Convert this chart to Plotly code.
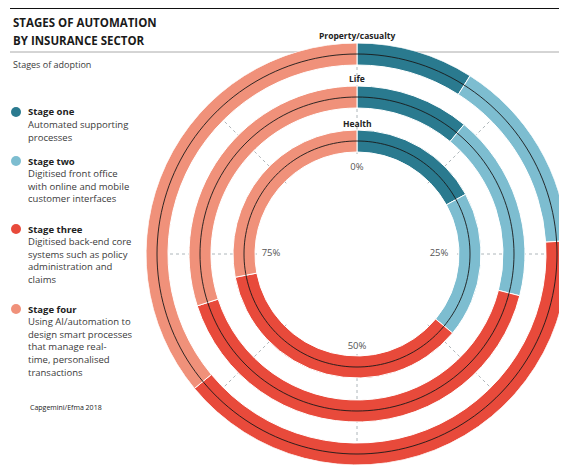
import plotly.graph_objects as go

# ---------------- data ----------------
sectors = ["Health", "Life", "Property/casualty"]
stage_names = ["Stage one", "Stage two", "Stage three", "Stage four"]
stage_desc = [
    ["Automated supporting", "processes"],
    ["Digitised front office", "with online and mobile", "customer interfaces"],
    ["Digitised back-end core", "systems such as policy", "administration and", "claims"],
    ["Using AI/automation to", "design smart processes", "that manage real-", "time, personalised", "transactions"],
]
# share (%) of each stage per sector, order = sectors
stage_one = [17, 11, 9]
stage_two = [19, 18, 15]
stage_three = [36, 41, 40]
stage_four = [28, 30, 36]
pct_ticks = [0, 25, 50, 75]
pct_labels = ["0%", "25%", "50%", "75%"]

# ---------------- style ----------------
W, H = 567, 472
OFF = 8  # page body margin
CX, CY, R = 357, 254, 211
colors = ["#2a7a8f", "#7dbdd0", "#e84a3b", "#f0917a"]
ring_inner = [102, 146, 189]
ring_w = 22
label_r = [86, 82, 93, 86]
FONT = "Open Sans"
TXT = "#3a3a3a"

stages = [stage_one, stage_two, stage_three, stage_four]

def px(x):
    return (x - OFF) / W

def py(y):
    return 1 - (y - OFF) / H

dom_x = [px(CX - R), px(CX + R)]
dom_y = [py(CY + R), py(CY - R)]

fig = go.Figure()

# dotted radial grid lines (bottom subplot)
for k in range(8):
    fig.add_trace(go.Scatterpolar(
        subplot="polar", r=[100, 228], theta=[k * 45, k * 45], mode="lines",
        line=dict(color="#9aa3a8", width=0.8, dash="dot"),
        cliponaxis=False, hoverinfo="skip", showlegend=False))

# ring segments
for si, vals in enumerate(stages):
    thetas, widths, bases, rs = [], [], [], []
    for ri in range(len(sectors)):
        start = sum(stages[j][ri] for j in range(si))
        v = vals[ri]
        thetas.append((start + v / 2) * 3.6)
        widths.append(v * 3.6)
        bases.append(ring_inner[ri])
        rs.append(ring_w)
    fig.add_trace(go.Barpolar(
        subplot="polar2", r=rs, theta=thetas, width=widths, base=bases,
        marker=dict(color=colors[si], line=dict(color="white", width=1)),
        name=stage_names[si], showlegend=False, hoverinfo="skip"))

# thin black centre lines
th = [i * 2 for i in range(181)]
for ri in range(len(sectors)):
    fig.add_trace(go.Scatterpolar(
        subplot="polar2", r=[ring_inner[ri] + ring_w / 2] * len(th), theta=th,
        mode="lines", line=dict(color="#1a1a1a", width=0.9),
        hoverinfo="skip", showlegend=False))

# percent labels
fig.add_trace(go.Scatterpolar(
    subplot="polar2", r=label_r, theta=[p * 3.6 for p in pct_ticks],
    mode="text", text=pct_labels, cliponaxis=False,
    textfont=dict(family=FONT, size=9.5, color="#555"),
    hoverinfo="skip", showlegend=False))

polar_common = dict(
    domain=dict(x=dom_x, y=dom_y), bgcolor="rgba(0,0,0,0)",
    radialaxis=dict(range=[0, R], visible=False),
    angularaxis=dict(visible=False, direction="clockwise", rotation=90,
                     thetaunit="degrees"),
)

# text annotations
ann = []
ann.append(dict(x=px(11), y=py(22), text="<b>STAGES OF AUTOMATION</b>",
                font=dict(family=FONT, size=11.5, color="#1a1a1a")))
ann.append(dict(x=px(11), y=py(40), text="<b>BY INSURANCE SECTOR</b>",
                font=dict(family=FONT, size=11.5, color="#1a1a1a")))
ann.append(dict(x=px(11), y=py(64), text="Stages of adoption",
                font=dict(family=FONT, size=9, color=TXT)))
stage_y = [112, 161, 229, 309]
LS = 12.6
for si in range(4):
    y0 = stage_y[si]
    ann.append(dict(x=px(26), y=py(y0), text="<b>" + stage_names[si] + "</b>",
                    font=dict(family=FONT, size=9.5, color="#222")))
    for li, line in enumerate(stage_desc[si]):
        ann.append(dict(x=px(26), y=py(y0 + LS * (li + 1)), text=line,
                        font=dict(family=FONT, size=9.5, color=TXT)))
ann.append(dict(x=px(28), y=py(407), text="Capgemini/Efma 2018",
                font=dict(family=FONT, size=7, color="#222")))
for a in ann:
    a.update(xanchor="left")
# sector names above each ring
for ri, name in enumerate(sectors):
    ann.append(dict(x=px(CX), y=py(CY - (ring_inner[ri] + ring_w + 7)), text="<b>" + name + "</b>",
                    xanchor="center", font=dict(family=FONT, size=8.5, color="#222")))
for a in ann:
    a.update(xref="paper", yref="paper", yanchor="middle", showarrow=False)

# legend dots
fig.add_trace(go.Scatter(
    x=[px(16)] * 4, y=[py(y) for y in stage_y], mode="markers",
    marker=dict(color=colors, size=10), xaxis="x", yaxis="y",
    hoverinfo="skip", showlegend=False))

fig.update_layout(
    width=W, height=H, margin=dict(l=0, r=0, t=0, b=0),
    paper_bgcolor="white", plot_bgcolor="rgba(0,0,0,0)",
    polar=polar_common, polar2=polar_common,
    xaxis=dict(range=[0, 1], domain=[0, 1], visible=False, fixedrange=True),
    yaxis=dict(range=[0, 1], domain=[0, 1], visible=False, fixedrange=True),
    annotations=ann,
    shapes=[
        dict(type="line", xref="paper", yref="paper", x0=px(10), x1=1,
             y0=py(7), y1=py(7), line=dict(color="#111", width=4), layer="below"),
        dict(type="line", xref="paper", yref="paper", x0=px(10), x1=1,
             y0=py(52), y1=py(52), line=dict(color="#aaaaaa", width=1), layer="below"),
    ],
    showlegend=False,
)

fig.write_html("out.html")
